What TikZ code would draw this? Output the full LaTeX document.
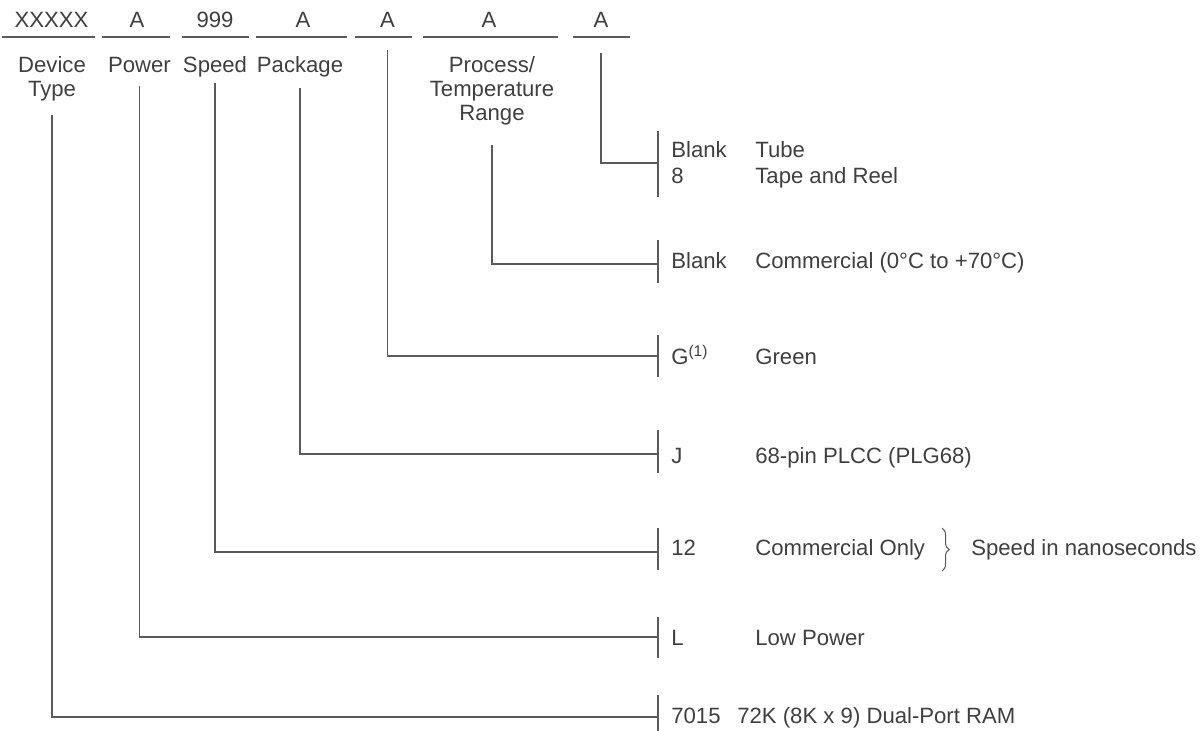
\documentclass[tikz,border=0pt]{standalone}
\usepackage{fontspec}
\setmainfont{Liberation Sans}
\usetikzlibrary{calc,decorations.pathreplacing}
\definecolor{ink}{HTML}{3F3F3F}
\definecolor{rule}{HTML}{5A5A5A}

\begin{document}
\begin{tikzpicture}[x=0.02cm,y=-0.02cm,font=\fontsize{12.6}{13.7}\selectfont,
  txt/.style={inner sep=0pt,text=ink,anchor=base},
  code/.style={inner sep=0pt,text=ink,anchor=base west},
  ln/.style={draw=rule,line width=0.8pt}]
\useasboundingbox (0,0) rectangle (1203,730);
% part number fields
\foreach \nm/\x/\la/\ra/\txt in {hdev/51.5/2/95/XXXXX,hpow/137/102/170/A,hspd/215/182/249/999,hpkg/303/256/347/A,hgrn/387.5/355/412/A,hprc/489/423/558/A,hpak/601/573/630/A}{
  \node[txt] (\nm) at (\x,28) {\txt};
  \draw[ln] (\la,37) -- (\ra,37);}
% field names
\node[txt,anchor=north,align=center] (ldev) at (52,56) {Device\\Type};
\node[txt] (lpow) at (139.5,72) {Power};
\node[txt] (lspd) at (215,72) {Speed};
\node[txt] (lpkg) at (300,72) {Package};
\node[txt,anchor=north,align=center] (lprc) at (492,56) {Process/\\Temperature\\Range};
% bracket points
\foreach \k/\y/\up/\dn in {kpak/163/32/34,kprc/264/24/19,kgrn/356/21/21,kpkg/454/24/19,kspd/552/24/18,kpow/637/20/21,kdev/717/22/22}{
  \coordinate (\k) at (658,\y);
  \draw[ln] (\k) ++(0,-\up) -- ++(0,\up+\dn);}
% options
\node[code] (cblk1) at (671,157) {Blank};
\node[code] (c8) at (671,183) {8};
\node[code] (dtube) at (755,157) {Tube};
\node[code] (dreel) at (755,183) {Tape and Reel};
\node[code] (cblk2) at (671,268) {Blank};
\node[code] (dcom) at (755,268) {Commercial (0°C to +70°C)};
\node[code] (cg) at (671,364) {G\textsuperscript{(1)}};
\node[code] (dgrn) at (755,364) {Green};
\node[code] (cj) at (671,463) {J};
\node[code] (dplcc) at (755,463) {68-pin PLCC (PLG68)};
\node[code] (c12) at (671,555) {12};
\node[code] (dcomo) at (755,555) {Commercial Only};
\node[code] (dns) at (971,555) {Speed in nanoseconds};
\node[code] (cl) at (671,645) {L};
\node[code] (dlow) at (755,645) {Low Power};
\node[code] (c7015) at (671,723) {7015};
\node[code] (dram) at (737,723) {72K (8K x 9) Dual-Port RAM};
\draw[ln,line width=0.6pt,decorate,decoration={brace,amplitude=4pt}] (942,528) -- (942,571);
% leaders
\draw[ln] (hpak.south) ++(0,25) |- (kpak);
\draw[ln] (lprc.south) ++(0,20) |- (kprc);
\draw[ln] (hgrn.south) ++(0,22) |- (kgrn);
\draw[ln] (lpkg.south) ++(0,11.5) |- (kpkg);
\draw[ln] (lspd.south) ++(0,6.5) |- (kspd);
\draw[ln] (lpow.south) ++(0,13) |- (kpow);
\draw[ln] (ldev.south) ++(0,14) |- (kdev);
\end{tikzpicture}
\end{document}
